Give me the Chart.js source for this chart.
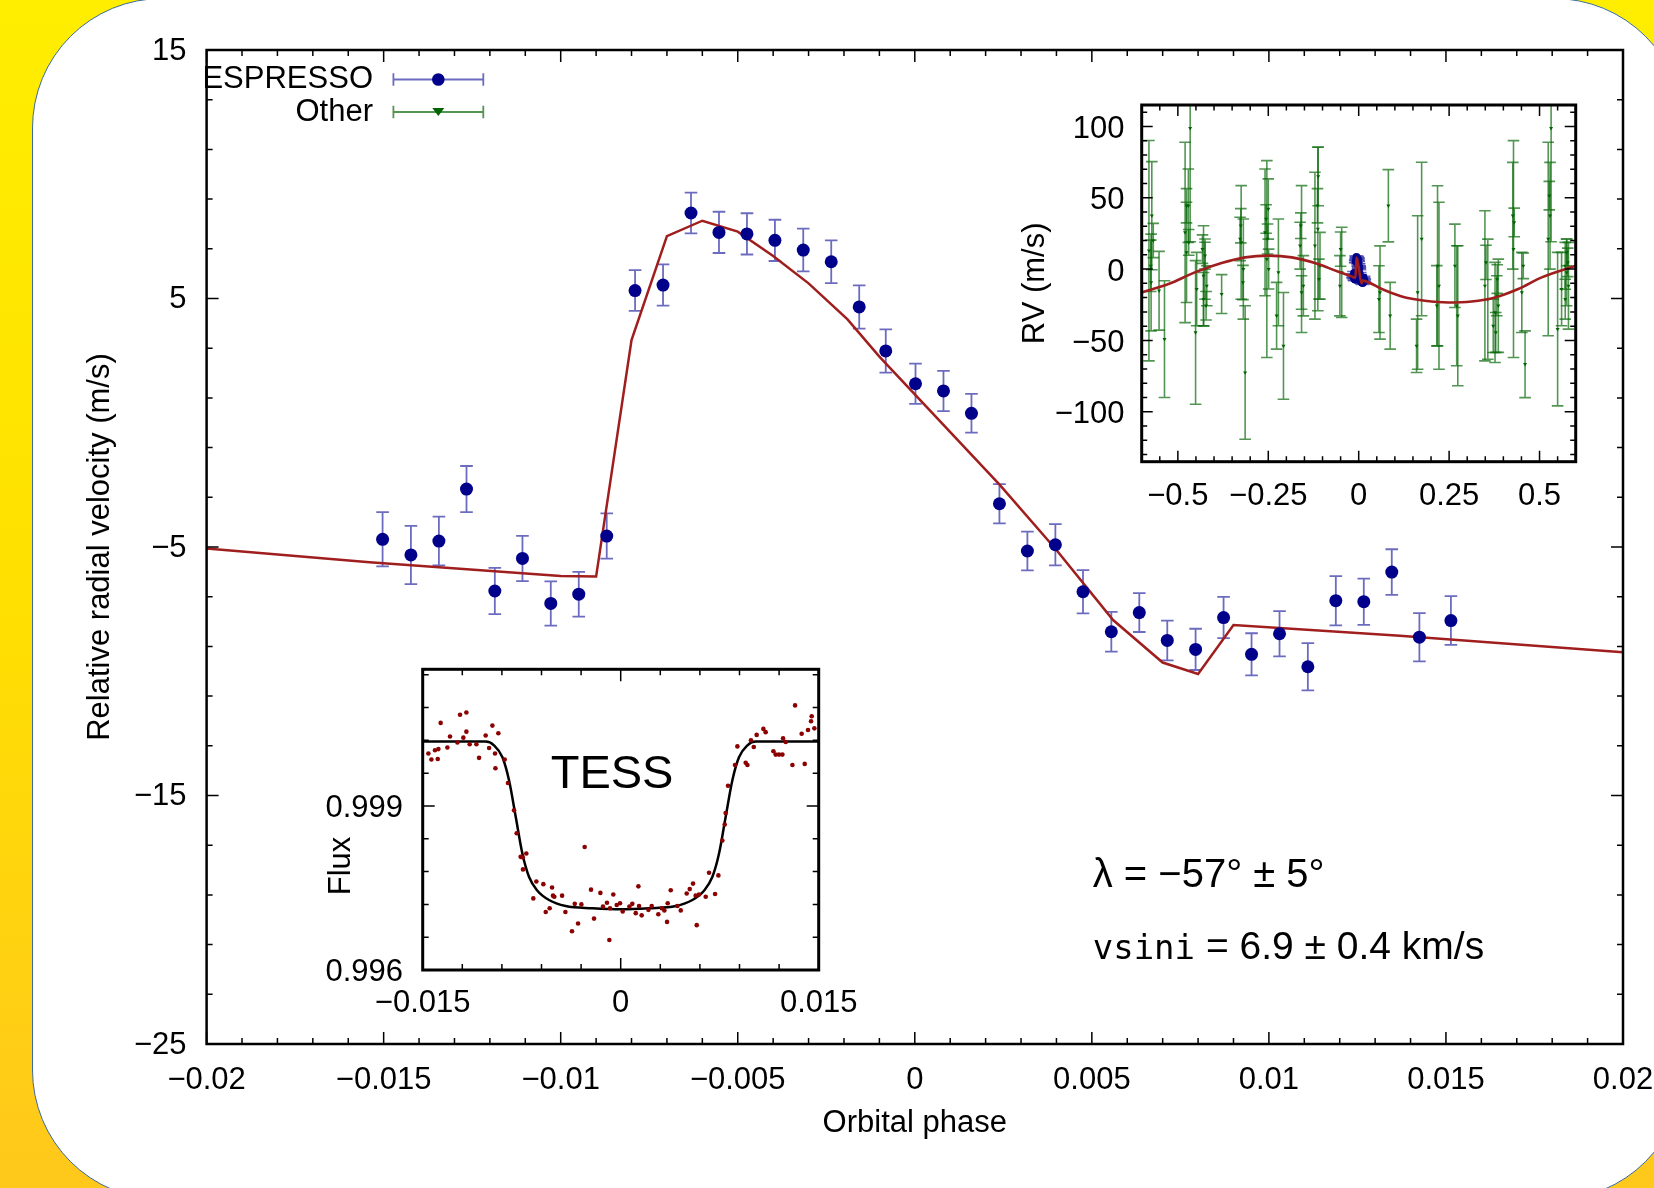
<!DOCTYPE html>
<html>
<head>
<meta charset="utf-8">
<script src="https://cdn.jsdelivr.net/npm/chart.js@4.4.1/dist/chart.umd.min.js"></script>
<style>
  html, body { margin: 0; padding: 0; width: 1654px; height: 1188px; overflow: hidden;
    background: linear-gradient(180deg, #ffee00 0%, #ffe000 50%, #ffc81c 100%); }
  #card { position: absolute; left: 32px; top: -2px; width: 1652px; height: 1202px; box-sizing: border-box;
    background: #fff; border: 1.5px solid #3b6aa0; border-radius: 130px; }
  canvas { position: absolute; left: 0; top: 0; }
</style>
</head>
<body>
<div id="card"></div>
<canvas id="main" width="1654" height="1188"></canvas>
<canvas id="rv" width="1654" height="1188"></canvas>
<canvas id="tess" width="1654" height="1188"></canvas>
<script>
// ESPRESSO transit sequence (main panel)
const espPhase = [-0.01503, -0.01423, -0.01344, -0.01266, -0.01186, -0.01108, -0.01028, -0.00949, -0.00870, -0.00790,
  -0.00711, -0.00632, -0.00553, -0.00474, -0.00395, -0.00315, -0.00236, -0.00157, -0.00082, 0.00002,
  0.00081, 0.00160, 0.00239, 0.00318, 0.00397, 0.00475, 0.00555, 0.00634, 0.00713, 0.00793,
  0.00872, 0.00951, 0.01030, 0.01110, 0.01189, 0.01268, 0.01347, 0.01425, 0.01514];
const espRV = [-4.69, -5.32, -4.76, -2.67, -6.77, -5.46, -7.27, -6.90, -4.56, 5.32,
  5.54, 8.44, 7.66, 7.60, 7.34, 6.95, 6.48, 4.66, 2.89, 1.57,
  1.28, 0.38, -3.26, -5.16, -4.91, -6.80, -8.41, -7.64, -8.76, -9.12,
  -7.84, -9.32, -8.49, -9.82, -7.16, -7.20, -6.01, -8.63, -7.96];
const espErr = [1.09, 1.17, 0.98, 0.93, 0.93, 0.91, 0.89, 0.90, 0.91, 0.82,
  0.83, 0.82, 0.83, 0.83, 0.83, 0.86, 0.86, 0.87, 0.87, 0.81,
  0.81, 0.78, 0.79, 0.78, 0.83, 0.87, 0.80, 0.78, 0.80, 0.83,
  0.83, 0.85, 0.91, 0.95, 0.99, 0.93, 0.92, 0.97, 0.98];

// RM model (main panel)
const modelPhase = [-0.0200, -0.0154, -0.0100, -0.0090, -0.0080, -0.0070, -0.0060, -0.0050, -0.0040, -0.0030,
  -0.0019, -0.0010, 0.0024, 0.0040, 0.0056, 0.0070, 0.0080, 0.0090, 0.0137, 0.0200];
const modelRV = [-5.06, -5.61, -6.17, -6.19, 3.33, 7.51, 8.13, 7.69, 6.71, 5.61,
  4.16, 2.66, -2.50, -5.12, -7.94, -9.65, -10.11, -8.14, -8.57, -9.24];

// other spectrographs (full-orbit inset)
const otherPhase = [-0.580, -0.572, -0.574, -0.552, -0.537, -0.480, -0.471, -0.466, -0.476, -0.451,
  -0.448, -0.429, -0.425, -0.420, -0.379, -0.325, -0.319, -0.314, -0.328, -0.259,
  -0.254, -0.250, -0.252, -0.222, -0.208, -0.227, -0.158, -0.153, -0.162, -0.121,
  -0.113, -0.112, -0.107, -0.047, -0.052, 0.059, 0.056, 0.082, 0.087, 0.163,
  0.174, 0.160, 0.218, 0.222, 0.216, 0.266, 0.271, 0.274, 0.349, 0.357,
  0.377, 0.386, 0.372, 0.428, 0.426, 0.451, 0.460, 0.524, 0.532, 0.529,
  0.550, 0.561, 0.575, 0.580, 0.571, -0.425, -0.429, -0.158, 0.382, 0.379,
  0.575, 0.571, -0.568, -0.575, -0.476, -0.470, -0.432, -0.422, -0.326, -0.320,
  -0.256, -0.249, -0.160, -0.114, -0.110, -0.050, 0.352, 0.383, 0.430, 0.455,
  0.527, 0.578];
const otherRV = [12.9, 37.4, -9.4, -15.2, -49.1, 25.7, 44.4, 98.7, 11.7, -44.4,
  -14.0, -4.7, 0.0, -11.7, -17.5, 18.7, 0.0, -72.5, 21.1, 25.7,
  7.0, 42.1, 21.1, -2.3, -53.8, -32.7, 7.0, -11.7, 16.4, 16.4,
  28.1, 65.0, 2.3, -2.3, -11.7, -16.4, -21.1, 44.4, -32.7, -16.4,
  21.1, -53.8, 2.3, -11.7, -25.7, 2.3, -25.7, -32.7, -11.7, -21.1,
  -30.4, -25.7, -39.8, 14.0, 37.4, -16.4, -66.7, 21.1, 98.7, 37.4,
  -42.1, -14.0, -2.3, -11.7, 2.3, 9.4, -21.1, -16.4, -18.7, -44.4,
  11.7, -21.1, 20.0, 2.3, 44.4, 18.7, 14.0, -25.7, 30.4, -9.4,
  35.1, 0.0, 30.4, 44.4, -7.0, 14.0, 4.7, -7.0, 32.7, 2.3,
  51.5, 4.7];
const otherErr = [77.2, 37.9, 33.9, 27.6, 40.9, 63.2, 25.7, 79.5, 35.1, 50.3,
  25.7, 35.1, 21.1, 14.0, 13.6, 39.8, 35.1, 46.8, 15.2, 44.4,
  69.0, 21.1, 10.5, 37.4, 37.4, 23.4, 51.5, 21.1, 16.4, 51.5,
  57.3, 20.6, 23.4, 31.6, 21.1, 32.7, 23.4, 25.3, 23.4, 53.8,
  53.8, 18.7, 56.1, 58.5, 28.1, 29.2, 42.1, 49.1, 52.6, 42.1,
  35.1, 32.7, 18.7, 76.0, 37.4, 28.1, 23.4, 67.8, 79.5, 37.4,
  53.8, 25.7, 23.4, 30.4, 16.4, 9.4, 18.7, 11.7, 14.0, 14.0,
  9.4, 14.0, 12.0, 18.0, 12.0, 9.0, 10.0, 10.0, 12.0, 12.0,
  10.0, 14.0, 9.0, 12.0, 14.0, 12.0, 12.0, 10.0, 10.0, 9.0,
  10.0, 10.0];

// orbit model (full-orbit inset)
const orbitPhase = [-0.600, -0.526, -0.453, -0.379, -0.314, -0.250, -0.185, -0.121, -0.056, -0.020,
  -0.009, -0.006, -0.001, 0.008, 0.009, 0.064, 0.119, 0.183, 0.248, 0.312,
  0.377, 0.441, 0.506, 0.600];
const orbitRV = [-16.4, -10.5, -2.3, 4.2, 8.2, 9.4, 8.2, 4.2, -1.9, -5.1,
  -6.2, 8.1, 2.7, -10.1, -8.1, -14.0, -19.2, -22.2, -23.4, -22.7,
  -19.9, -14.0, -5.8, 2.3];

// TESS light curve (lower inset)
const tessPhase = [-0.01457, -0.01434, -0.01407, -0.01386, -0.01381, -0.01364, -0.01313, -0.01293, -0.01237, -0.01217,
  -0.01192, -0.01169, -0.01169, -0.01144, -0.01093, -0.01073, -0.01023, -0.00997, -0.00972, -0.00952,
  -0.00949, -0.00927, -0.00879, -0.00854, -0.00808, -0.00788, -0.00758, -0.00742, -0.00740, -0.00715,
  -0.00662, -0.00639, -0.00586, -0.00568, -0.00538, -0.00520, -0.00513, -0.00503, -0.00444, -0.00419,
  -0.00369, -0.00348, -0.00323, -0.00298, -0.00273, -0.00225, -0.00202, -0.00154, -0.00134, -0.00104,
  -0.00086, -0.00081, -0.00056, -0.00030, -0.00005, 0.00015, 0.00066, 0.00088, 0.00114, 0.00134,
  0.00139, 0.00159, 0.00210, 0.00235, 0.00285, 0.00311, 0.00331, 0.00351, 0.00356, 0.00379,
  0.00429, 0.00455, 0.00500, 0.00523, 0.00548, 0.00568, 0.00576, 0.00593, 0.00644, 0.00669,
  0.00715, 0.00740, 0.00770, 0.00788, 0.00795, 0.00813, 0.00866, 0.00884, 0.00947, 0.00960,
  0.00987, 0.01008, 0.01030, 0.01081, 0.01098, 0.01157, 0.01174, 0.01199, 0.01225, 0.01230,
  0.01250, 0.01301, 0.01321, 0.01371, 0.01394, 0.01419, 0.01442, 0.01447, 0.01467];
const tessFlux = [0.99996, 0.99985, 1.00002, 0.99986, 1.00004, 1.00052, 1.00007, 1.00027, 1.00016, 1.00067,
  1.00025, 1.00071, 1.00036, 1.00013, 1.00013, 0.99988, 1.00029, 1.00006, 1.00047, 0.99996,
  0.99969, 1.00033, 0.99985, 0.99942, 0.99892, 0.99850, 0.99807, 0.99806, 0.99784, 0.99813,
  0.99731, 0.99762, 0.99757, 0.99706, 0.99713, 0.99751, 0.99736, 0.99734, 0.99736, 0.99706,
  0.99671, 0.99721, 0.99685, 0.99720, 0.99825, 0.99747, 0.99694, 0.99741, 0.99716, 0.99723,
  0.99655, 0.99713, 0.99738, 0.99719, 0.99722, 0.99707, 0.99716, 0.99721, 0.99704, 0.99753,
  0.99717, 0.99700, 0.99710, 0.99717, 0.99702, 0.99713, 0.99709, 0.99688, 0.99722, 0.99746,
  0.99717, 0.99709, 0.99740, 0.99748, 0.99758, 0.99736, 0.99682, 0.99738, 0.99734, 0.99778,
  0.99739, 0.99773, 0.99837, 0.99866, 0.99887, 0.99937, 0.99975, 1.00009, 0.99979, 0.99975,
  1.00020, 1.00008, 1.00030, 1.00041, 1.00035, 1.00000, 0.99994, 0.99994, 0.99994, 1.00024,
  1.00017, 0.99975, 1.00084, 1.00032, 0.99977, 1.00039, 1.00055, 1.00064, 1.00042];
const tessModelPhase = [-0.0150, -0.01023, -0.0096, -0.00896, -0.00846, -0.00795, -0.00745, -0.00694, -0.00631, -0.00543,
  -0.00417, -0.00215, 0, 0.00215, 0.00417, 0.00543, 0.00631, 0.00694, 0.00745, 0.00795,
  0.00846, 0.00896, 0.0096, 0.01023, 0.0150];
const tessModelFlux = [1.00018, 1.00018, 1.00011, 0.99989, 0.99947, 0.99880, 0.99813, 0.99770, 0.99745, 0.99728,
  0.99717, 0.99713, 0.99711, 0.99713, 0.99717, 0.99728, 0.99745, 0.99770, 0.99813, 0.99880,
  0.99947, 0.99989, 1.00011, 1.00018, 1.00018];

// tick labels
const mainXTicks = [-0.02, -0.015, -0.01, -0.005, 0, 0.005, 0.01, 0.015, 0.02];
const mainXLabels = ['\u22120.02', '\u22120.015', '\u22120.01', '\u22120.005', '0', '0.005', '0.01', '0.015', '0.02'];
const mainYTicks = [-25, -15, -5, 5, 15];
const mainYLabels = ['\u221225', '\u221215', '\u22125', '5', '15'];
const rvXTicks = [-0.5, -0.25, 0, 0.25, 0.5];
const rvXLabels = ['\u22120.5', '\u22120.25', '0', '0.25', '0.5'];
const rvYTicks = [-100, -50, 0, 50, 100];
const rvYLabels = ['\u2212100', '\u221250', '0', '50', '100'];
const tessXTicks = [-0.015, 0, 0.015];
const tessXLabels = ['\u22120.015', '0', '0.015'];
const tessYTicks = [0.996, 0.999];
const tessYLabels = ['0.996', '0.999'];

const seriesNames = ['ESPRESSO', 'Other'];

const SANS = '"Liberation Sans", Arial, Helvetica, sans-serif';
Chart.defaults.font.family = SANS;
Chart.defaults.font.size = 31;
Chart.defaults.color = '#000';

const BLUE = '#00008b', BLUE_ERR = 'rgba(70,70,175,0.8)';
const GREEN = '#006400', GREEN_ERR = 'rgba(10,105,10,0.7)';
const RED = '#a01e1e';

const pts = (xs, ys) => xs.map((x, i) => ({x: x, y: ys[i]}));

function steps(start, end, step) {
  const out = [];
  for (let k = 0; start + k * step <= end + step * 1e-6; k++) out.push(start + k * step);
  return out;
}

// gnuplot-like frame with inward ticks on all four sides
const frameTicks = {
  id: 'frameTicks',
  beforeDraw(chart) {
    const a = chart.chartArea, ctx = chart.ctx;
    ctx.save();
    ctx.fillStyle = '#fff';
    ctx.fillRect(a.left, a.top, a.right - a.left, a.bottom - a.top);
    ctx.restore();
  },
  afterDatasetsDraw(chart, args, o) {
    const {ctx, chartArea: a, scales: {x, y}} = chart;
    ctx.save();
    ctx.strokeStyle = '#000';
    ctx.lineWidth = o.tickWidth;
    ctx.beginPath();
    const xt = (vals, len) => vals.forEach(v => {
      const p = x.getPixelForValue(v);
      ctx.moveTo(p, a.bottom); ctx.lineTo(p, a.bottom - len);
      ctx.moveTo(p, a.top); ctx.lineTo(p, a.top + len);
    });
    const yt = (vals, len) => vals.forEach(v => {
      const p = y.getPixelForValue(v);
      ctx.moveTo(a.left, p); ctx.lineTo(a.left + len, p);
      ctx.moveTo(a.right, p); ctx.lineTo(a.right - len, p);
    });
    xt(o.xMinor, o.minorLen); xt(o.xMajor, o.majorLen);
    yt(o.yMinor, o.minorLen); yt(o.yMajor, o.majorLen);
    ctx.stroke();
    ctx.lineWidth = o.frameWidth;
    ctx.strokeRect(a.left, a.top, a.right - a.left, a.bottom - a.top);
    ctx.restore();
  }
};

// vertical error bars with caps, drawn under the markers
const errorBars = {
  id: 'errorBars',
  beforeDatasetsDraw(chart) {
    const {ctx, chartArea: a, scales: {x, y}} = chart;
    ctx.save();
    ctx.beginPath();
    ctx.rect(a.left, a.top, a.right - a.left, a.bottom - a.top);
    ctx.clip();
    chart.data.datasets.forEach(ds => {
      if (!ds.yErr) return;
      ctx.strokeStyle = ds.errColor;
      ctx.lineWidth = ds.errWidth;
      ds.data.forEach((p, i) => {
        const px = x.getPixelForValue(p.x);
        const y1 = y.getPixelForValue(p.y + ds.yErr[i]);
        const y2 = y.getPixelForValue(p.y - ds.yErr[i]);
        ctx.beginPath();
        ctx.moveTo(px, y1); ctx.lineTo(px, y2);
        ctx.moveTo(px - ds.cap, y1); ctx.lineTo(px + ds.cap, y1);
        ctx.moveTo(px - ds.cap, y2); ctx.lineTo(px + ds.cap, y2);
        ctx.stroke();
      });
    });
    ctx.restore();
  }
};

// key and fit results on the main panel
const mainNotes = {
  id: 'mainNotes',
  afterDraw(chart) {
    const ctx = chart.ctx;
    ctx.save();
    ctx.font = '31px ' + SANS;
    ctx.textAlign = 'right';
    ctx.textBaseline = 'middle';
    const rows = [{y: 79.5, err: BLUE_ERR, mark: BLUE, tri: false}, {y: 112, err: GREEN_ERR, mark: GREEN, tri: true}];
    rows.forEach((r, i) => {
      ctx.fillStyle = '#000';
      ctx.fillText(seriesNames[i], 373, r.y);
      ctx.strokeStyle = r.err;
      ctx.lineWidth = 1.8;
      ctx.beginPath();
      ctx.moveTo(393.4, r.y); ctx.lineTo(483.3, r.y);
      ctx.moveTo(393.4, r.y - 6.3); ctx.lineTo(393.4, r.y + 6.3);
      ctx.moveTo(483.3, r.y - 6.3); ctx.lineTo(483.3, r.y + 6.3);
      ctx.stroke();
      ctx.fillStyle = r.mark;
      ctx.beginPath();
      if (r.tri) {
        ctx.moveTo(438.3 - 6, r.y - 4); ctx.lineTo(438.3 + 6, r.y - 4); ctx.lineTo(438.3, r.y + 4);
        ctx.closePath();
      } else {
        ctx.arc(438.3, r.y, 6.3, 0, Math.PI * 2);
      }
      ctx.fill();
    });

    ctx.fillStyle = '#000';
    ctx.textAlign = 'left';
    ctx.textBaseline = 'alphabetic';
    ctx.font = '40px ' + SANS;
    ctx.fillText('\u03bb = \u221257\u00b0 \u00b1 5\u00b0', 1092.7, 886.7);
    ctx.font = '34px "DejaVu Sans Mono", "Liberation Mono", monospace';
    ctx.fillText('vsini', 1092.7, 959.3);
    const w = ctx.measureText('vsini').width;
    ctx.font = '39px ' + SANS;
    ctx.fillText(' = 6.9 \u00b1 0.4 km/s', 1092.7 + w, 959.3);
    ctx.restore();
  }
};

// TESS label and the flux axis title (which sits below the axis middle)
const tessNote = {
  id: 'tessNote',
  afterDatasetsDraw(chart) {
    const ctx = chart.ctx;
    ctx.save();
    ctx.fillStyle = '#000';
    ctx.font = '47px ' + SANS;
    ctx.textBaseline = 'alphabetic';
    ctx.fillText('TESS', 550.7, 788.3);
    ctx.translate(341, 866);
    ctx.rotate(-Math.PI / 2);
    ctx.font = '31px ' + SANS;
    ctx.textAlign = 'center';
    ctx.textBaseline = 'middle';
    ctx.fillText('Flux', 0, 0);
    ctx.restore();
  }
};

function axes(o) {
  return {
    x: {
      type: 'linear', min: o.xMin, max: o.xMax,
      grid: {display: false, drawTicks: false}, border: {display: false},
      ticks: {padding: o.xPad, autoSkip: false, maxRotation: 0, minRotation: 0,
        callback: (v, i) => o.xLabels[i]},
      afterBuildTicks: s => { s.ticks = o.xTicks.map(v => ({value: v})); },
      afterFit: s => { s.height = o.xHeight; s.paddingLeft = 0; s.paddingRight = 0; },
      title: o.xTitle ? {display: true, text: o.xTitle, padding: {top: 0, bottom: o.xTitlePad}} : {display: false}
    },
    y: {
      type: 'linear', min: o.yMin, max: o.yMax,
      grid: {display: false, drawTicks: false}, border: {display: false},
      ticks: {padding: o.yPad, autoSkip: false, labelOffset: o.yShift || 0, callback: (v, i) => o.yLabels[i]},
      afterBuildTicks: s => { s.ticks = o.yTicks.map(v => ({value: v})); },
      afterFit: s => { s.width = o.yWidth; s.paddingTop = 0; s.paddingBottom = 0; },
      title: o.yTitle ? {display: true, text: o.yTitle, padding: {top: o.yTitlePad, bottom: 0}} : {display: false}
    }
  };
}

const common = {
  responsive: false, animation: false, devicePixelRatio: 1, events: []
};

// main panel
new Chart(document.getElementById('main'), {
  type: 'scatter',
  data: {
    datasets: [
      {data: pts(espPhase, espRV), yErr: espErr, errColor: BLUE_ERR, errWidth: 1.8, cap: 6.3,
        pointRadius: 6.5, pointBackgroundColor: BLUE, pointBorderColor: BLUE, pointBorderWidth: 0},
      {data: pts(modelPhase, modelRV), showLine: true, borderColor: RED, borderWidth: 2.5,
        pointRadius: 0, tension: 0}
    ]
  },
  options: Object.assign({}, common, {
    layout: {autoPadding: false, padding: {left: 0, top: 50, right: 31, bottom: 0}},
    scales: axes({
      xMin: -0.02, xMax: 0.02, xTicks: mainXTicks, xLabels: mainXLabels, xPad: 17.7, xHeight: 144,
      xTitle: 'Orbital phase', xTitlePad: 45.9,
      yMin: -25, yMax: 15, yTicks: mainYTicks, yLabels: mainYLabels, yPad: 20, yWidth: 206.6, yShift: 1,
      yTitle: 'Relative radial velocity (m/s)', yTitlePad: 81.4
    }),
    plugins: {
      legend: {display: false}, tooltip: {enabled: false},
      frameTicks: {xMajor: mainXTicks, xMinor: steps(-0.02, 0.02, 0.001), yMajor: mainYTicks,
        yMinor: steps(-25, 15, 2), majorLen: 12, minorLen: 6, tickWidth: 1.5, frameWidth: 2.5}
    }
  }),
  plugins: [frameTicks, errorBars, mainNotes]
});

// full-orbit inset
new Chart(document.getElementById('rv'), {
  type: 'scatter',
  data: {
    datasets: [
      {data: pts(orbitPhase, orbitRV), showLine: true, borderColor: RED, borderWidth: 2.6,
        pointRadius: 0, cubicInterpolationMode: 'monotone'},
      {data: pts(espPhase, espRV), yErr: espErr, errColor: BLUE_ERR, errWidth: 1.6, cap: 7,
        pointRadius: 4, pointBackgroundColor: BLUE, pointBorderColor: BLUE, pointBorderWidth: 0},
      {data: pts(otherPhase, otherRV), yErr: otherErr, errColor: GREEN_ERR, errWidth: 1.6, cap: 5.8,
        pointStyle: 'triangle', rotation: 180, pointRadius: 2.3, pointBackgroundColor: GREEN,
        pointBorderColor: GREEN, pointBorderWidth: 0}
    ]
  },
  options: Object.assign({}, common, {
    layout: {autoPadding: false, padding: {left: 1001.7, top: 105, right: 78.3, bottom: 666.3}},
    scales: axes({
      xMin: -0.6, xMax: 0.6, xTicks: rvXTicks, xLabels: rvXLabels, xPad: 15.9, xHeight: 60,
      yMin: -135, yMax: 115, yTicks: rvYTicks, yLabels: rvYLabels, yPad: 17.2, yWidth: 140, yShift: 3,
      yTitle: 'RV (m/s)', yTitlePad: 14.7
    }),
    plugins: {
      legend: {display: false}, tooltip: {enabled: false},
      frameTicks: {xMajor: rvXTicks, xMinor: steps(-0.6, 0.6, 0.05), yMajor: rvYTicks,
        yMinor: steps(-130, 110, 10), majorLen: 11, minorLen: 5.5, tickWidth: 1.5, frameWidth: 3}
    }
  }),
  plugins: [frameTicks, errorBars]
});

// TESS inset
new Chart(document.getElementById('tess'), {
  type: 'scatter',
  data: {
    datasets: [
      {data: pts(tessPhase, tessFlux), pointRadius: 2.3, pointBackgroundColor: '#8b0000',
        pointBorderColor: '#8b0000', pointBorderWidth: 0},
      {data: pts(tessModelPhase, tessModelFlux), showLine: true, borderColor: '#000', borderWidth: 2.5,
        pointRadius: 0, cubicInterpolationMode: 'monotone'}
    ]
  },
  options: Object.assign({}, common, {
    layout: {autoPadding: false, padding: {left: 292.7, top: 669.3, right: 835.3, bottom: 158}},
    scales: axes({
      xMin: -0.015, xMax: 0.015, xTicks: tessXTicks, xLabels: tessXLabels, xPad: 15.1, xHeight: 60,
      yMin: 0.996, yMax: 1.0015, yTicks: tessYTicks, yLabels: tessYLabels, yPad: 19.7, yWidth: 130, yShift: 2.5
    }),
    plugins: {
      legend: {display: false}, tooltip: {enabled: false},
      frameTicks: {xMajor: tessXTicks, xMinor: steps(-0.015, 0.015, 0.003), yMajor: tessYTicks,
        yMinor: steps(0.996, 1.0015, 0.0006), majorLen: 12, minorLen: 6, tickWidth: 1.5, frameWidth: 3}
    }
  }),
  plugins: [frameTicks, tessNote]
});
</script>
</body>
</html>
